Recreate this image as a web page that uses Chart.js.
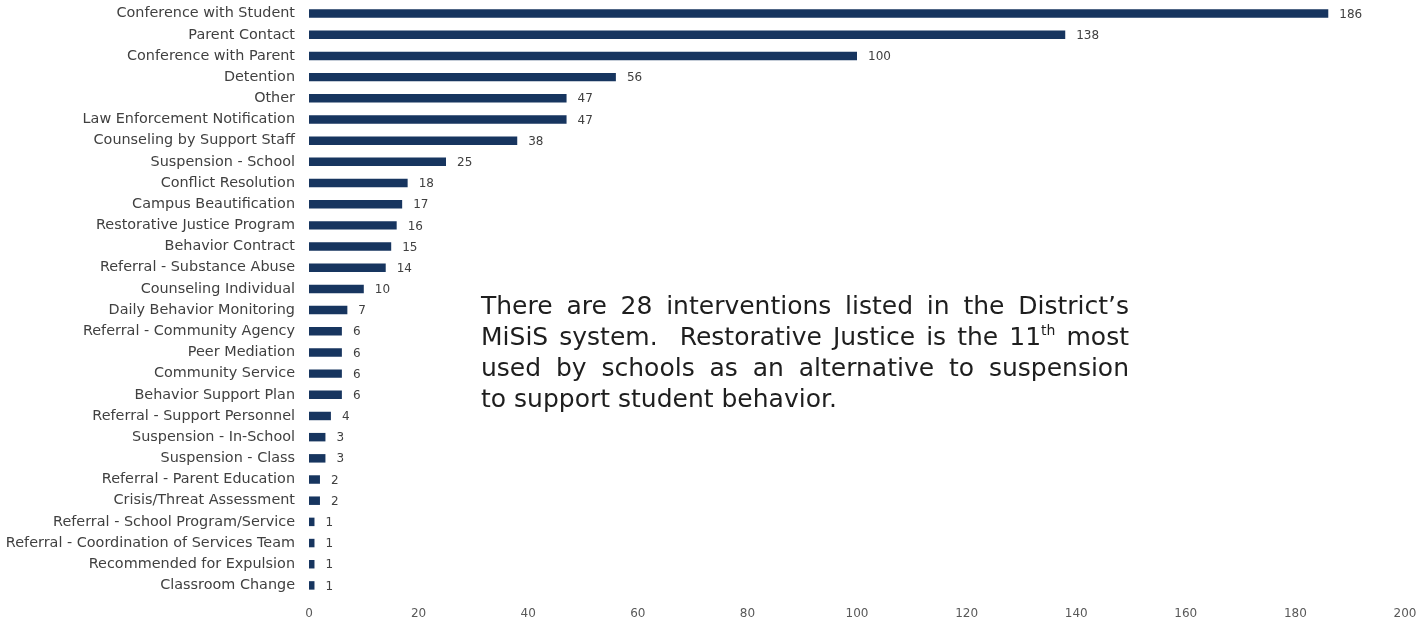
<!DOCTYPE html>
<html>
<head>
<meta charset="utf-8">
<script src="https://cdn.jsdelivr.net/npm/chart.js@4/dist/chart.umd.min.js"></script>
<style>
  html, body { margin: 0; padding: 0; background: #fff; }
  #wrap { position: relative; width: 1418px; height: 624px; }
  #note {
    position: absolute; left: 481px; top: 290px; width: 648px;
    font-family: "DejaVu Sans", sans-serif; font-size: 25px; line-height: 31px;
    color: #1e1e1e;
  }
  #note div { text-align: justify; text-align-last: justify; white-space: nowrap; }
  #note div.last { text-align-last: left; }
  #note sup { font-size: 14px; line-height: 0; vertical-align: 10px; }
</style>
</head>
<body>
<div id="wrap">
  <canvas id="chart" width="1418" height="624"></canvas>
  <div id="note">
    <div>There are 28 interventions listed in the District’s</div>
    <div>MiSiS system.&nbsp; Restorative Justice is the 11<sup>th</sup> most</div>
    <div>used by schools as an alternative to suspension</div>
    <div class="last">to support student behavior.</div>
  </div>
</div>
<script>
// Intervenções e número de usos
const categories = [
  "Conference with Student", "Parent Contact", "Conference with Parent", "Detention",
  "Other", "Law Enforcement Notification", "Counseling by Support Staff", "Suspension - School",
  "Conflict Resolution", "Campus Beautification", "Restorative Justice Program", "Behavior Contract",
  "Referral - Substance Abuse", "Counseling Individual", "Daily Behavior Monitoring",
  "Referral - Community Agency", "Peer Mediation", "Community Service", "Behavior Support Plan",
  "Referral - Support Personnel", "Suspension - In-School", "Suspension - Class",
  "Referral - Parent Education", "Crisis/Threat Assessment", "Referral - School Program/Service",
  "Referral - Coordination of Services Team", "Recommended for Expulsion", "Classroom Change",
];
const counts = [186, 138, 100, 56, 47, 47, 38, 25, 18, 17, 16, 15, 14, 10, 7, 6, 6, 6, 6, 4, 3, 3, 2, 2, 1, 1, 1, 1];
const xTicks = [0, 20, 40, 60, 80, 100, 120, 140, 160, 180, 200];

const barColor = "#17355f";
const textColor = "#404040";

// Valores ao lado de cada barra
const valueLabels = {
  id: "valueLabels",
  afterDatasetsDraw(chart) {
    const { ctx } = chart;
    const meta = chart.getDatasetMeta(0);
    ctx.save();
    ctx.font = "12px 'DejaVu Sans', sans-serif";
    ctx.fillStyle = textColor;
    ctx.textAlign = "left";
    ctx.textBaseline = "middle";
    meta.data.forEach((bar, i) => {
      ctx.fillText(String(counts[i]), bar.x + 11, bar.y + 1);
    });
    ctx.restore();
  },
};

const ctx = document.getElementById("chart").getContext("2d");
new Chart(ctx, {
  type: "bar",
  data: {
    labels: categories,
    datasets: [
      {
        data: counts,
        backgroundColor: barColor,
        barPercentage: 0.8,
        categoryPercentage: 0.5,
      },
    ],
  },
  options: {
    indexAxis: "y",
    responsive: false,
    animation: false,
    layout: { padding: { top: 3, right: 13, left: 0, bottom: 0 } },
    plugins: {
      legend: { display: false },
      tooltip: { enabled: false },
    },
    scales: {
      x: {
        min: 0,
        max: 200,
        afterBuildTicks: (scale) => {
          scale.ticks = xTicks.map((v) => ({ value: v }));
        },
        afterFit: (scale) => {
          scale.height = 28;
          scale.paddingLeft = 0;
          scale.paddingRight = 0;
        },
        grid: { display: false },
        border: { display: false },
        ticks: {
          color: "#595959",
          font: { family: "DejaVu Sans", size: 12 },
          padding: 3,
        },
      },
      y: {
        afterFit: (scale) => {
          scale.width = 309;
          scale.paddingTop = 0;
          scale.paddingBottom = 0;
        },
        grid: { display: false },
        border: { display: false },
        ticks: {
          color: textColor,
          font: { family: "DejaVu Sans", size: 14.4 },
          padding: 6,
          autoSkip: false,
        },
      },
    },
  },
  plugins: [valueLabels],
});
</script>
</body>
</html>
